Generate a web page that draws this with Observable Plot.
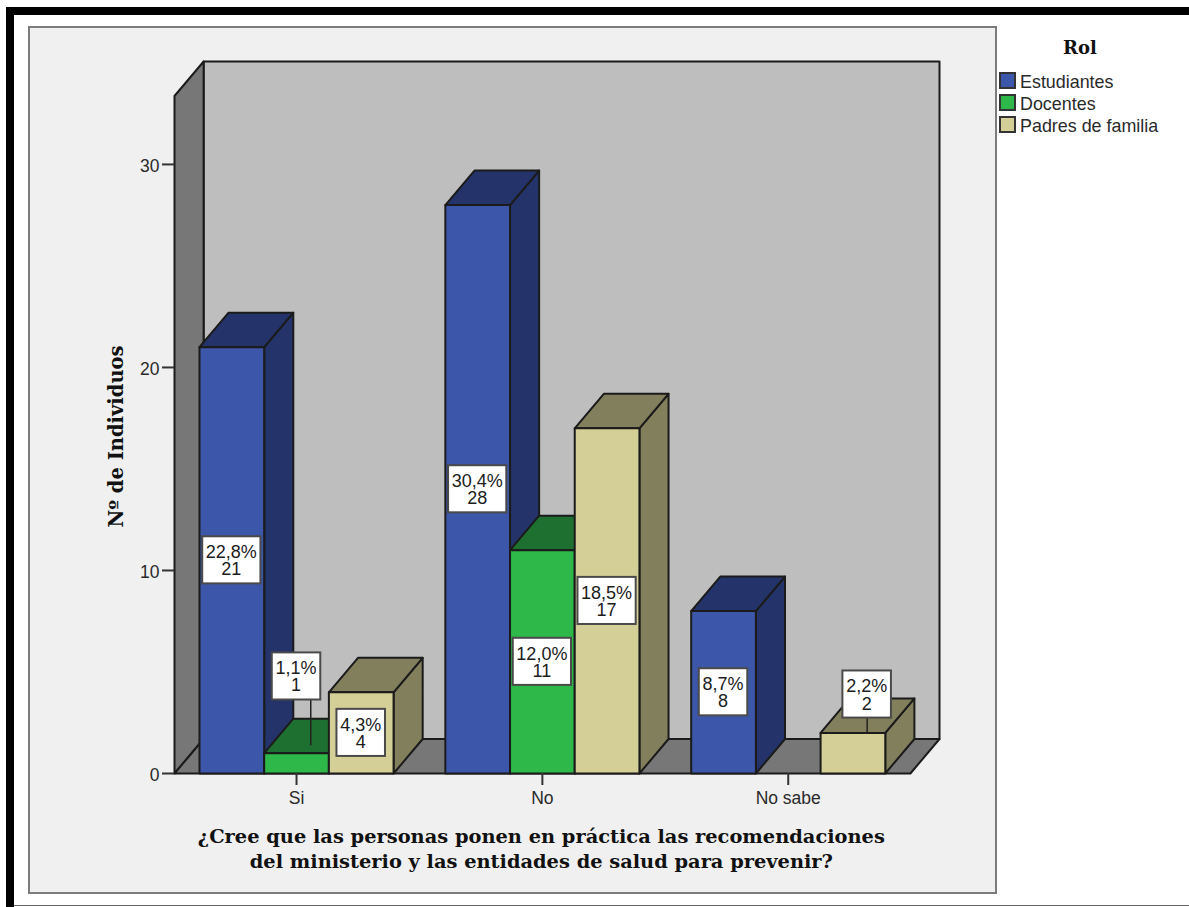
<!DOCTYPE html>
<html lang="es">
<head>
<meta charset="utf-8">
<title>Rol</title>
<script src="https://cdn.jsdelivr.net/npm/d3@7"></script>
<script src="https://cdn.jsdelivr.net/npm/@observablehq/plot@0.6"></script>
<style>
  html, body { margin: 0; padding: 0; background: #fff; overflow: hidden; }
  #page { position: relative; width: 1189px; height: 907px; overflow: hidden; }
  #topbar { position: absolute; left: 6px; top: 7px; right: 0; height: 8px; background: #000; }
  #leftbar { position: absolute; left: 6px; top: 7px; bottom: 0; width: 8px; background: #000; }
  #baseline { position: absolute; left: 14px; right: 0; top: 905px; height: 1px; background: #666; }
  #panel { position: absolute; left: 28px; top: 26px; width: 965px; height: 864px;
           background: #f0f0f0; border: 2px solid #7c7c7c; box-sizing: content-box; }
  #chart { position: absolute; left: 0; top: 0; }
  #legend { position: absolute; left: 999px; top: 36px; width: 180px;
            font-family: "Liberation Sans", sans-serif; font-size: 17.9px; color: #2a2a2a; }
  #legend h2 { margin: 0; width: 162px; text-align: center; height: 33px;
               font: bold 18px/24px "DejaVu Serif", serif; color: #111; }
  #legend div { display: flex; align-items: center; height: 22px; }
  #legend i { display: block; width: 13px; height: 13px; border: 2px solid #333; margin-right: 4px; }
  #legend span { position: relative; top: 2px; }
</style>
</head>
<body>
<div id="page">
  <div id="topbar"></div>
  <div id="leftbar"></div>
  <div id="baseline"></div>
  <div id="panel"></div>
  <div id="chart"></div>
  <div id="legend"></div>
</div>
<script>
// Survey counts by answer and role
const answers = ["Si", "No", "No sabe"];
const roles = ["Estudiantes", "Docentes", "Padres de familia"];
const estudiantes = [21, 28, 8];
const docentes = [1, 11, 0];
const padres = [4, 17, 2];
const estudiantesPct = [22.8, 30.4, 8.7];
const docentesPct = [1.1, 12.0, 0];
const padresPct = [4.3, 18.5, 2.2];
const yTicks = [0, 10, 20, 30];

const counts = [estudiantes, docentes, padres];
const percents = [estudiantesPct, docentesPct, padresPct];
const frontColors = ["#3c57a9", "#2eb84a", "#d4cf97"];
const shadeColors = ["#24346a", "#1e7030", "#827f5c"];

// Geometry of the pseudo-3D box, in scale units
const barWidth = 1;
const depthX = 0.45;
const depthY = 1.7;
const firstBar = 0.386;
const groupStep = 3.8;
const xMax = 11.824;
const yMax = 35.07;
const floorRight = xMax - depthX;

const barLeft = (group, role) => firstBar + group * groupStep + role * barWidth;

// Labels that sit outside their bar, joined to it by a leader line
const callouts = new Map([
  ["0-1", {shift: 0, y: 4.78, end: 1.38, xEnd: 0.22}],
  ["2-2", {shift: 0.22, y: 3.89, end: 2, xEnd: 0.22}]
]);

const faces = [];
function polygon(id, fill, points) {
  for (const [x, y] of [...points, points[0]]) faces.push({id, fill, x, y});
}

// Back wall, side wall and floor of the box
polygon("back", "#bebebe", [[depthX, depthY], [xMax, depthY], [xMax, yMax], [depthX, yMax]]);
polygon("side", "#777777", [[0, 0], [depthX, depthY], [depthX, yMax], [0, yMax - depthY]]);
polygon("floor", "#777777", [[0, 0], [floorRight, 0], [xMax, depthY], [depthX, depthY]]);

const bars = [];
answers.forEach((answer, g) => {
  roles.forEach((role, r) => {
    const v = counts[r][g];
    if (!v) return;
    const x0 = barLeft(g, r);
    const x1 = x0 + barWidth;
    const id = `${g}-${r}`;
    polygon(id + "s", shadeColors[r], [[x1, 0], [x1 + depthX, depthY], [x1 + depthX, v + depthY], [x1, v]]);
    polygon(id + "t", shadeColors[r], [[x0, v], [x1, v], [x1 + depthX, v + depthY], [x0 + depthX, v + depthY]]);
    polygon(id + "f", frontColors[r], [[x0, 0], [x1, 0], [x1, v], [x0, v]]);

    const pct = percents[r][g].toFixed(1).replace(".", ",") + "%";
    const out = callouts.get(id);
    const cx = (x0 + x1) / 2 + (out ? out.shift : 0);
    const cy = out ? out.y : v / 2;
    const half = pct.length === 5 ? 0.45 : 0.375;
    bars.push({
      text: `${pct}\n${v}`, cx, cy, x1: cx - half, x2: cx + half, y1: cy - 1.16, y2: cy + 1.16,
      leader: out ? {x: (x0 + x1) / 2 + out.xEnd, y: out.end, top: cy - 1.16} : null
    });
  });
});
const leaders = bars.filter((d) => d.leader);

const groupCentre = (i) => barLeft(i, 1) + barWidth / 2;
const centres = answers.map((_, i) => groupCentre(i));

const ink = "#1b1b1b";
const textInk = "#2a2a2a";

const chart = Plot.plot({
  width: 1189,
  height: 907,
  marginLeft: 174,
  marginRight: 250,
  marginTop: 61,
  marginBottom: 134,
  style: {background: "transparent", overflow: "visible", fontFamily: "'Liberation Sans', sans-serif"},
  x: {domain: [0, xMax]},
  y: {domain: [0, yMax]},
  color: {type: "identity"},
  marks: [
    Plot.line(faces, {
      x: "x", y: "y", z: "id", fill: "fill",
      stroke: ink, strokeWidth: 2, strokeLinejoin: "round", strokeMiterlimit: 2
    }),
    // Tick marks and their numbers are separate axes: the numbers sit a little below their ticks
    Plot.axisY({ticks: yTicks, tickSize: 12, label: null, fill: "none", stroke: "#333", strokeWidth: 2}),
    Plot.axisY({
      ticks: yTicks, tickSize: 0, tickPadding: 15, label: null, dy: 2,
      fontSize: 17.5, color: textInk
    }),
    Plot.axisX({
      ticks: centres, tickFormat: (d) => answers[centres.indexOf(d)],
      tickSize: 12, tickPadding: 6, label: null,
      fontSize: 17.5, color: textInk, stroke: "#333", strokeWidth: 2
    }),
    Plot.link(leaders, {
      x1: (d) => d.leader.x, y1: (d) => d.leader.top, x2: (d) => d.leader.x, y2: (d) => d.leader.y,
      stroke: "#222", strokeWidth: 1.5
    }),
    Plot.rect(bars, {x1: "x1", x2: "x2", y1: "y1", y2: "y2", fill: "#fff", stroke: "#4a4a4a", strokeWidth: 2}),
    Plot.text(bars, {
      x: "cx", y: "cy", text: "text", fontSize: 18, lineHeight: 0.95, dx: -0.5, dy: 1, fill: "#1c1c1c"
    }),
    Plot.text(["Nº de Individuos"], {
      x: -0.9, y: 16.6, text: (d) => d, rotate: -90,
      fontFamily: "'DejaVu Serif', serif", fontWeight: "bold", fontSize: 19.5, fill: "#111"
    }),
    Plot.text(["¿Cree que las personas ponen en práctica las recomendaciones\ndel ministerio y las entidades de salud para prevenir?"], {
      x: 5.67, y: -3.63, text: (d) => d, lineHeight: 1.28,
      fontFamily: "'DejaVu Serif', serif", fontWeight: "bold", fontSize: 19.4, fill: "#111"
    })
  ]
});
document.getElementById("chart").append(chart);

// Legend for the three roles
const legend = document.getElementById("legend");
const heading = document.createElement("h2");
heading.textContent = "Rol";
legend.append(heading);
roles.forEach((role, i) => {
  const row = document.createElement("div");
  const swatch = document.createElement("i");
  swatch.style.background = frontColors[i];
  const label = document.createElement("span");
  label.textContent = role;
  row.append(swatch, label);
  legend.append(row);
});
</script>
</body>
</html>
